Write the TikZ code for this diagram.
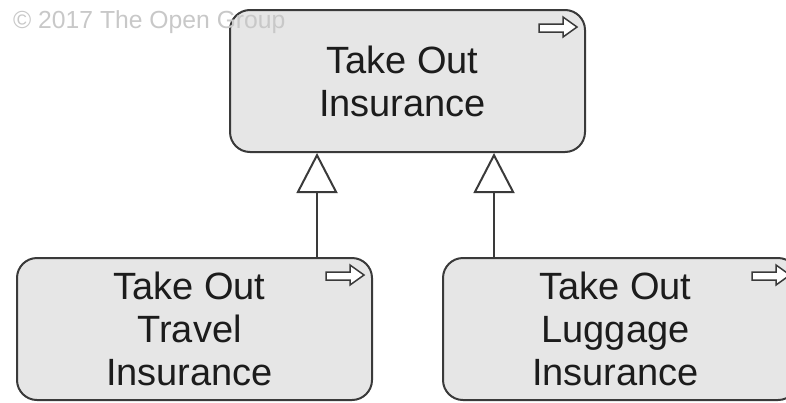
\documentclass[tikz,border=0pt]{standalone}
\usepackage{fontspec}
\setmainfont{Liberation Sans}
\usetikzlibrary{arrows.meta}
\definecolor{boxfill}{HTML}{E6E6E6}
\definecolor{boxline}{HTML}{3A3A3A}
\definecolor{copyc}{HTML}{C8C8C8}
\definecolor{txt}{HTML}{1C1C1C}
\tikzset{
  proc/.style={draw=boxline, line width=2pt, fill=boxfill, rounded corners=20pt,
    minimum width=355pt, minimum height=142pt, inner sep=0pt,
    font=\fontsize{38}{43}\selectfont, text=txt},
  gen/.style={draw=boxline, line width=2pt, -{Triangle[open, length=40pt, width=41pt, line width=2pt]}},
  icon/.style={draw=boxline, line width=1.5pt, fill=white, line join=miter}
}
\newcommand{\proctext}[1]{\raisebox{-5pt}[\height][\depth]{\begin{tabular}{@{}c@{\hspace{10pt}}}#1\end{tabular}}}
\newcommand{\procicon}[1]{%
  \draw[icon] (#1.north east) ++(-47,15) -- ++(24,0) -- ++(0,-7)
    -- ++(14,10) -- ++(-14,10) -- ++(0,-5) -- ++(-24,0) -- cycle;}
\begin{document}
\begin{tikzpicture}[x=1pt,y=-1pt]
\useasboundingbox (0,0) rectangle (786,402);
\clip (0,0) rectangle (786,402);
\node[proc] (t) at (407.5,81) {\proctext{Take Out\\Insurance}};
\node[proc] (l) at (194.5,329) {\proctext{Take Out\\Travel\\Insurance}};
\node[proc] (r) at (620.5,329) {\proctext{Take Out\\Luggage\\Insurance}};
\procicon{t}
\procicon{l}
\procicon{r}
\draw[gen] ([xshift=301pt]l.north west) -- ([xshift=88pt]t.south west);
\draw[gen] ([xshift=52pt]r.north west) -- ([xshift=265pt]t.south west);
\node[anchor=west, text=copyc, font=\fontsize{24.7}{28}\selectfont, inner sep=0pt] (c) at (13,22) {© 2017 The Open Group};
\end{tikzpicture}
\end{document}
